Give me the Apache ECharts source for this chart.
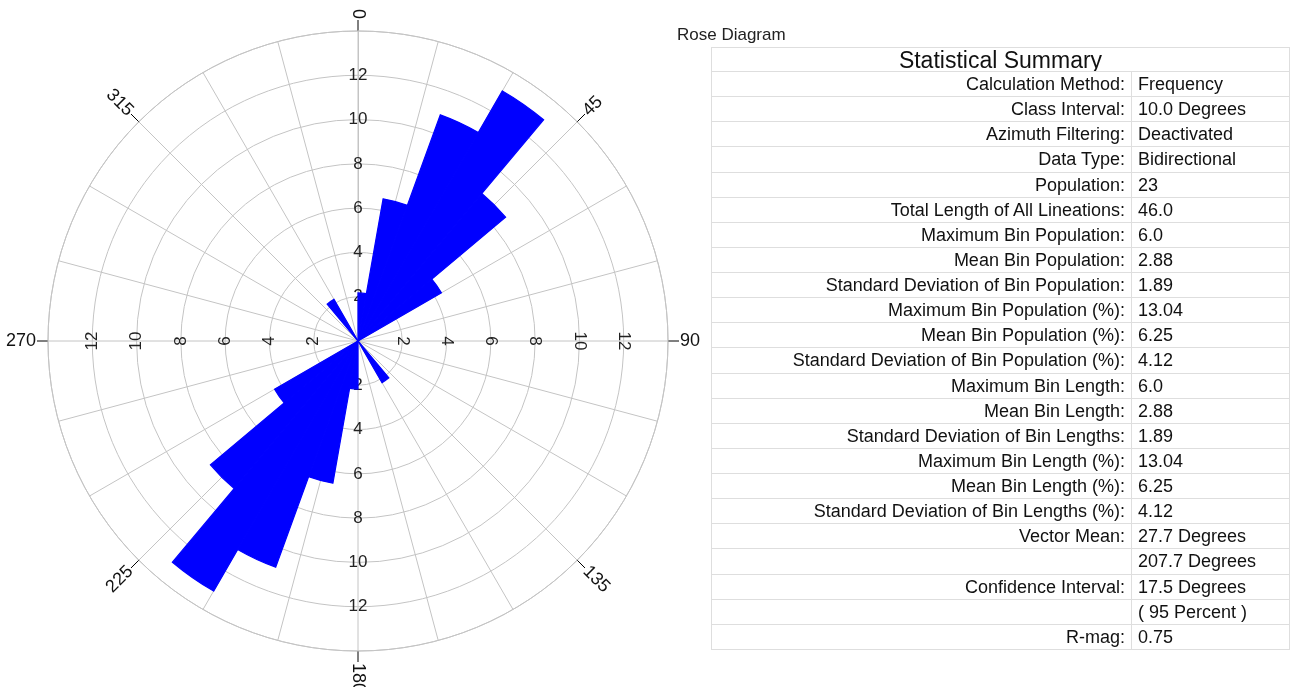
<!DOCTYPE html>
<html>
<head>
<meta charset="utf-8">
<title>Rose Diagram</title>
<script src="https://cdn.jsdelivr.net/npm/echarts@6/dist/echarts.min.js"></script>
<style>
  html, body { margin: 0; padding: 0; background: #fff; }
  #main { position: absolute; left: 0; top: 0; width: 1291px; height: 687px; }
  #caption { position: absolute; left: 677px; top: 25px; font: 17px 'Liberation Sans', Arial, sans-serif; color: #222; }
  #summary { position: absolute; left: 711px; top: 47px; width: 578px; border-collapse: collapse; table-layout: fixed;
             font: 18px 'Liberation Sans', Arial, sans-serif; color: #111; }
  #summary td { border: 1px solid #dedede; padding: 0; height: 24px; line-height: 18px; white-space: nowrap; overflow: hidden; }
  #summary td.lab { text-align: right; padding-right: 6px; }
  #summary td.val { text-align: left; padding-left: 6px; }
  #summary td.head { text-align: center; font-size: 23px; height: 23px; }
</style>
</head>
<body>
<div id="main"></div>
<div id="caption">Rose Diagram</div>
<table id="summary"><colgroup><col style="width:420px"><col style="width:158px"></colgroup><tbody id="rows"></tbody></table>
<script>
// 10 degree classes, percent of all lineations (bidirectional)
const sectors = ['0','10','20','30','40','50','60','70','80','90','100','110','120','130','140','150','160','170',
                 '180','190','200','210','220','230','240','250','260','270','280','290','300','310','320','330','340','350'];
const binPercent = [2.17, 6.52, 10.87, 13.04, 8.70, 4.35, 0, 0, 0, 0, 0, 0, 0, 0, 2.17, 0, 0, 0,
                    2.17, 6.52, 10.87, 13.04, 8.70, 4.35, 0, 0, 0, 0, 0, 0, 0, 0, 2.17, 0, 0, 0];

// azimuth labels round the outside
const azimuthLabels = [0, 45, 90, 135, 180, 225, 270, 315];
const azimuthRotate = [-90, 45, 0, -45, -90, 45, 0, -45];
const azimuthAlign = ['right', 'left', 'left', 'left', 'left', 'right', 'right', 'right'];

const statLabels = ['Calculation Method:', 'Class Interval:', 'Azimuth Filtering:', 'Data Type:', 'Population:',
  'Total Length of All Lineations:', 'Maximum Bin Population:', 'Mean Bin Population:',
  'Standard Deviation of Bin Population:', 'Maximum Bin Population (%):', 'Mean Bin Population (%):',
  'Standard Deviation of Bin Population (%):', 'Maximum Bin Length:', 'Mean Bin Length:',
  'Standard Deviation of Bin Lengths:', 'Maximum Bin Length (%):', 'Mean Bin Length (%):',
  'Standard Deviation of Bin Lengths (%):', 'Vector Mean:', '', 'Confidence Interval:', '', 'R-mag:'];
const statValues = ['Frequency', '10.0 Degrees', 'Deactivated', 'Bidirectional', '23', '46.0', '6.0', '2.88',
  '1.89', '13.04', '6.25', '4.12', '6.0', '2.88', '1.89', '13.04', '6.25', '4.12', '27.7 Degrees',
  '207.7 Degrees', '17.5 Degrees', '( 95 Percent )', '0.75'];

// summary table
const rows = document.getElementById('rows');
let html = '<tr><td class="head" colspan="2">Statistical Summary</td></tr>';
for (let i = 0; i < statLabels.length; i++) {
  html += '<tr><td class="lab">' + statLabels[i] + '</td><td class="val">' + statValues[i] + '</td></tr>';
}
rows.innerHTML = html;
document.querySelectorAll('#summary td.lab, #summary td.val').forEach(td => td.style.height = '24.14px');

const font = "'Liberation Sans', Arial, sans-serif";
const gridGray = '#c4c4c4';
const center = [358, 341];
const radius = 310;
const labelRadius = 322;

// ring labels along one spoke
const ringAxis = (idx, rotate) => ({
  polarIndex: idx, type: 'value', min: 0, max: 14, interval: 2,
  axisLine: { show: idx === 0, lineStyle: { color: gridGray } },
  axisTick: { show: false },
  splitLine: { show: idx === 0, lineStyle: { color: gridGray, width: 1 } },
  axisLabel: {
    margin: 0, rotate: rotate, align: 'center', verticalAlign: 'middle',
    fontSize: 17, fontFamily: font, color: '#222',
    formatter: v => (v === 0 || v === 14) ? '' : String(v)
  }
});
const hiddenAngle = (idx, start) => ({ polarIndex: idx, type: 'value', min: 0, max: 360, startAngle: start, show: false });

const polar = [0, 1, 2, 3, 4, 5].map(() => ({ center: center, radius: radius }));
const angleAxis = [
  { // grid spokes every 15 degrees
    polarIndex: 0, type: 'value', min: 0, max: 360, interval: 15, startAngle: 90, clockwise: true,
    axisLine: { lineStyle: { color: gridGray } },
    axisTick: { show: false }, axisLabel: { show: false },
    splitLine: { lineStyle: { color: gridGray, width: 1 } }
  },
  hiddenAngle(1, 0),
  hiddenAngle(2, 270),
  hiddenAngle(3, 180),
  { // ticks every 45 degrees
    polarIndex: 4, type: 'value', min: 0, max: 360, interval: 45, startAngle: 90, clockwise: true,
    axisLine: { show: false }, splitLine: { show: false }, axisLabel: { show: false },
    axisTick: { show: true, inside: false, length: 11, lineStyle: { color: '#000' } }
  },
  { polarIndex: 5, type: 'category', data: sectors, startAngle: 90, clockwise: true, boundaryGap: true, show: false }
];
const radiusAxis = [
  ringAxis(0, 0),
  ringAxis(1, -90),
  ringAxis(2, 0),
  ringAxis(3, 90),
  { polarIndex: 4, type: 'value', min: 0, max: 14, show: false },
  { polarIndex: 5, type: 'value', min: 0, max: 14, show: false }
];

// one short radius axis per azimuth label, so each label can turn along its spoke
azimuthLabels.forEach((deg, i) => {
  const idx = polar.length;
  polar.push({ center: center, radius: labelRadius });
  angleAxis.push(hiddenAngle(idx, 90 - deg));
  radiusAxis.push({
    polarIndex: idx, type: 'value', min: 0, max: 1, interval: 1,
    axisLine: { show: false }, axisTick: { show: false }, splitLine: { show: false },
    axisLabel: {
      margin: 0, rotate: azimuthRotate[i], align: azimuthAlign[i], verticalAlign: 'middle',
      fontSize: 18, fontFamily: font, color: '#111',
      formatter: v => v === 1 ? String(deg) : ''
    }
  });
});

const chart = echarts.init(document.getElementById('main'));
chart.setOption({
  animation: false,
  polar: polar,
  angleAxis: angleAxis,
  radiusAxis: radiusAxis,
  series: [{
    type: 'bar', coordinateSystem: 'polar', polarIndex: 5,
    data: binPercent, barCategoryGap: '0%', barGap: '0%',
    itemStyle: { color: '#0000ff', borderColor: '#0000ff', borderWidth: 1.2 },
    silent: true, z: 5
  }]
});
</script>
</body>
</html>
